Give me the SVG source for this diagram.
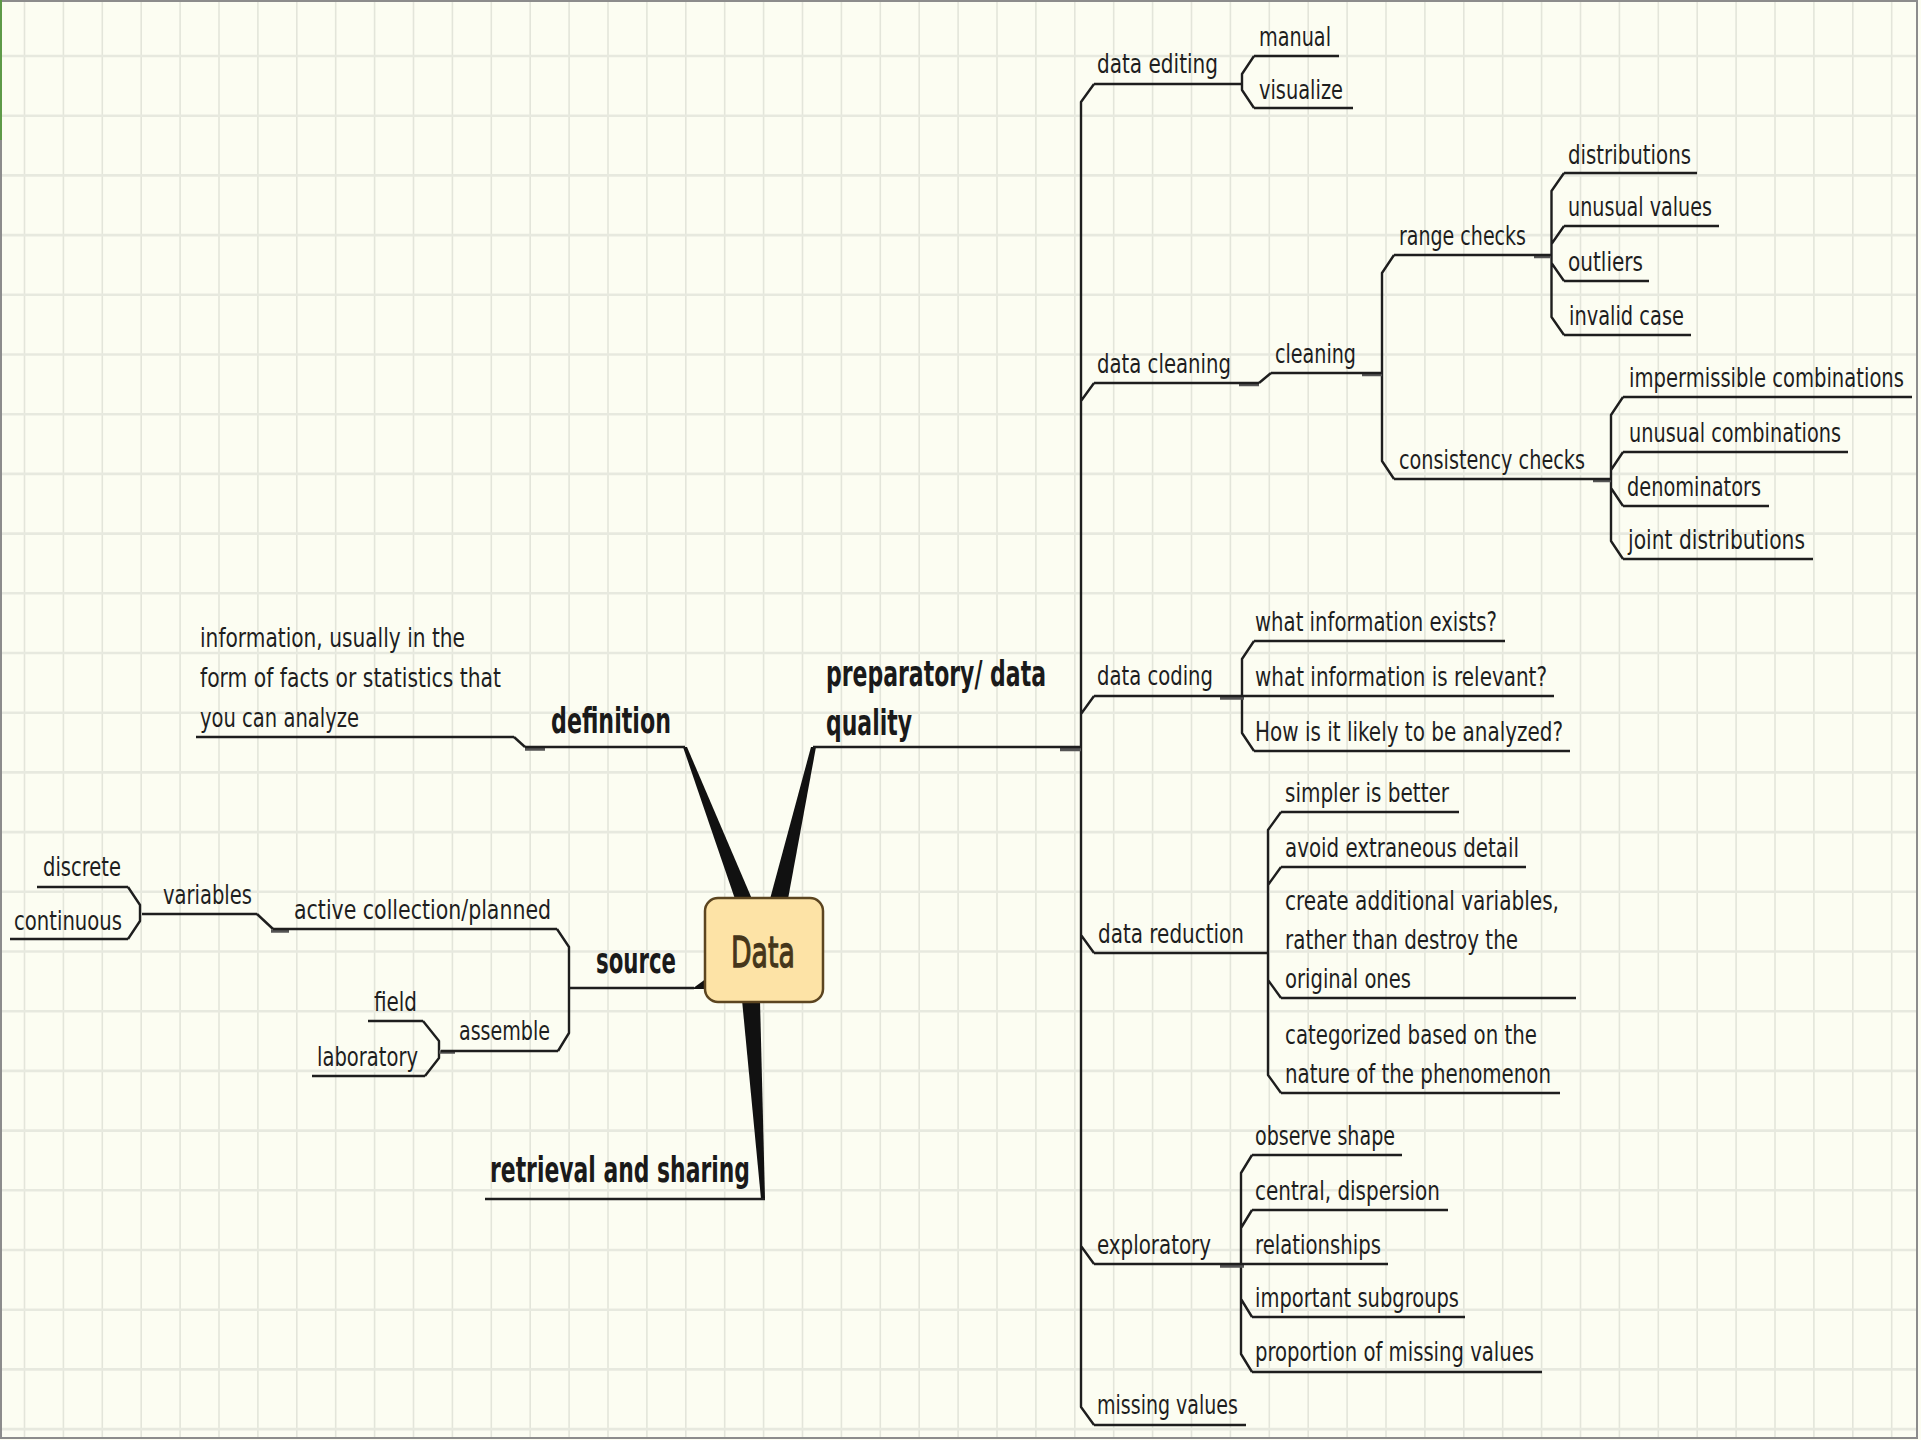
<svg xmlns="http://www.w3.org/2000/svg" width="1921" height="1440" viewBox="0 0 1921 1440">
<style>
.bg{fill:#fcfdf2}
.gv{stroke:#e3e5da;stroke-width:1.6;fill:none}
.gh{stroke:#e7e9df;stroke-width:2.6;fill:none}
.c{stroke:#1e1e1e;stroke-width:2.4;fill:none;stroke-linejoin:round}
.u{stroke:#1e1e1e;stroke-width:2.4;fill:none}
.st{stroke:#555;stroke-width:3.5;fill:none}
.w{fill:#111}
.t{font-family:"DejaVu Sans","Liberation Sans",sans-serif;font-size:26px;fill:#1e1e1e}
.b{font-family:"DejaVu Sans","Liberation Sans",sans-serif;font-size:35px;font-weight:bold;fill:#1a1a1a}
</style>
<rect class="bg" x="0" y="0" width="1921" height="1440"/>
<path class="gv" d="M24.5 1V1438M63.4 1V1438M102.3 1V1438M141.2 1V1438M180.1 1V1438M219 1V1438M257.9 1V1438M296.8 1V1438M335.7 1V1438M374.6 1V1438M413.5 1V1438M452.4 1V1438M491.3 1V1438M530.2 1V1438M569.1 1V1438M608 1V1438M646.9 1V1438M685.8 1V1438M724.7 1V1438M763.6 1V1438M802.5 1V1438M841.4 1V1438M880.3 1V1438M919.2 1V1438M958.1 1V1438M997 1V1438M1035.9 1V1438M1074.8 1V1438M1113.7 1V1438M1152.6 1V1438M1191.5 1V1438M1230.4 1V1438M1269.3 1V1438M1308.2 1V1438M1347.1 1V1438M1386 1V1438M1424.9 1V1438M1463.8 1V1438M1502.7 1V1438M1541.6 1V1438M1580.5 1V1438M1619.4 1V1438M1658.3 1V1438M1697.2 1V1438M1736.1 1V1438M1775 1V1438M1813.9 1V1438M1852.8 1V1438M1891.7 1V1438"/>
<path class="gh" d="M1 56H1917M1 115.7H1917M1 175.4H1917M1 235.1H1917M1 294.8H1917M1 354.5H1917M1 414.2H1917M1 473.9H1917M1 533.6H1917M1 593.3H1917M1 653H1917M1 712.7H1917M1 772.4H1917M1 832.1H1917M1 891.8H1917M1 951.5H1917M1 1011.2H1917M1 1070.9H1917M1 1130.6H1917M1 1190.3H1917M1 1250H1917M1 1309.7H1917M1 1369.4H1917M1 1429.1H1917"/>
<rect x="1" y="1" width="1916" height="1437" fill="none" stroke="#8c8c8c" stroke-width="2"/>
<line x1="1" y1="0" x2="1" y2="140" stroke="#5e9a48" stroke-width="2"/>

<g id="connectors">
  <polygon class="w" points="683,747 687,747 752,899 735,899"/>
  <polygon class="w" points="811,747 816,747 788,899 770,899"/>
  <polygon class="w" points="742,1000 760,1000 765,1199 761,1199"/>
  <polygon class="w" points="692,989 707,978 707,989"/>
  <path class="c" d="M1094,84 L1081,102 L1081,1407 L1094,1425 M1081,401 L1094,383 M1081,714 L1094,696 M1081,935 L1094,953 M1081,1246 L1094,1264"/>
  <path class="c" d="M1254,56 L1242,74 L1242,90 L1254,108"/>
  <path class="c" d="M1259,383 L1271,373"/>
  <path class="c" d="M1394,255 L1382,273 L1382,461 L1394,479"/>
  <path class="c" d="M1564,173 L1551.5,191 L1551.5,317 L1564,335 M1551.5,244 L1564,226 M1551.5,263 L1564,281"/>
  <path class="c" d="M1623,397 L1611,415 L1611,541 L1623,559 M1611,470 L1623,452 M1611,488 L1623,506"/>
  <path class="c" d="M1254,641 L1242,659 L1242,733 L1254,751"/>
  <path class="c" d="M1281,812 L1268,830 L1268,1075 L1281,1093 M1268,885 L1281,867 M1268,980 L1281,998"/>
  <path class="c" d="M1252,1155 L1241,1173 L1241,1354 L1252,1372 M1241,1228 L1252,1210 M1241,1299 L1252,1317"/>
  <path class="c" d="M514,737 L525,747"/>
  <path class="c" d="M557,929 L569,947 L569,1033 L558,1051"/>
  <path class="c" d="M257,914 L273,929"/>
  <path class="c" d="M128,887 L140,905 L140,921 L128,939"/>
  <path class="c" d="M423,1021 L439,1041 L439,1058 L425,1076"/>
  <path class="st" d="M1060,749.5H1081M1220,698H1244M1239,384.5H1259M1362,374.5H1382M1534,256.5H1551M1593,480.5H1611M1220,1266H1244M525,749H545M271,931H289M439,1052H455"/>
</g>

<g id="data">
  <rect x="705" y="898" width="118" height="104" rx="13" fill="#fde3a6" stroke="#5c4520" stroke-width="2.5"/>
  <text transform="translate(731 967) scale(0.62 1)" font-family="DejaVu Sans, Liberation Sans, sans-serif" font-size="43" fill="#45361a" stroke="#45361a" stroke-width="1.3" textLength="103" lengthAdjust="spacingAndGlyphs">Data</text>
</g>

<g id="definition">
  <text class="b" transform="translate(551 733) scale(0.64 1)" textLength="187.5" lengthAdjust="spacingAndGlyphs">definition</text>
  <line class="u" x1="525" y1="747" x2="685" y2="747"/>
</g>
<g id="definition-text">
  <text class="t" transform="translate(200 647) scale(0.76 1)" textLength="348.7" lengthAdjust="spacingAndGlyphs">information, usually in the</text>
  <text class="t" transform="translate(200 687) scale(0.76 1)" textLength="396.1" lengthAdjust="spacingAndGlyphs">form of facts or statistics that</text>
  <text class="t" transform="translate(200 727) scale(0.76 1)" textLength="209.2" lengthAdjust="spacingAndGlyphs">you can analyze</text>
  <line class="u" x1="196" y1="737" x2="514" y2="737"/>
</g>
<g id="source">
  <text class="b" transform="translate(596 973) scale(0.64 1)" textLength="125" lengthAdjust="spacingAndGlyphs">source</text>
  <line class="u" x1="569" y1="988" x2="694" y2="988"/>
</g>
<g id="active">
  <text class="t" transform="translate(294 919) scale(0.76 1)" textLength="338.2" lengthAdjust="spacingAndGlyphs">active collection/planned</text>
  <line class="u" x1="273" y1="929" x2="557" y2="929"/>
</g>
<g id="variables">
  <text class="t" transform="translate(163 904) scale(0.76 1)" textLength="117.1" lengthAdjust="spacingAndGlyphs">variables</text>
  <line class="u" x1="142" y1="914" x2="257" y2="914"/>
</g>
<g id="discrete">
  <text class="t" transform="translate(43 876) scale(0.76 1)" textLength="102.6" lengthAdjust="spacingAndGlyphs">discrete</text>
  <line class="u" x1="37" y1="887" x2="128" y2="887"/>
</g>
<g id="continuous">
  <text class="t" transform="translate(14 930) scale(0.76 1)" textLength="142.1" lengthAdjust="spacingAndGlyphs">continuous</text>
  <line class="u" x1="10" y1="939" x2="128" y2="939"/>
</g>
<g id="assemble">
  <text class="t" transform="translate(459 1040) scale(0.76 1)" textLength="119.7" lengthAdjust="spacingAndGlyphs">assemble</text>
  <line class="u" x1="441" y1="1051" x2="558" y2="1051"/>
</g>
<g id="field">
  <text class="t" transform="translate(374 1011) scale(0.76 1)" textLength="56.6" lengthAdjust="spacingAndGlyphs">field</text>
  <line class="u" x1="368" y1="1021" x2="423" y2="1021"/>
</g>
<g id="laboratory">
  <text class="t" transform="translate(317 1066) scale(0.76 1)" textLength="132.9" lengthAdjust="spacingAndGlyphs">laboratory</text>
  <line class="u" x1="312" y1="1076" x2="425" y2="1076"/>
</g>
<g id="retrieval">
  <text class="b" transform="translate(490 1182) scale(0.64 1)" textLength="406.25" lengthAdjust="spacingAndGlyphs">retrieval and sharing</text>
  <line class="u" x1="485" y1="1199" x2="765" y2="1199"/>
</g>

<g id="preparatory">
  <text class="b" transform="translate(826 686) scale(0.64 1)" textLength="343.75" lengthAdjust="spacingAndGlyphs">preparatory/ data</text>
  <text class="b" transform="translate(826 735) scale(0.64 1)" textLength="134.4" lengthAdjust="spacingAndGlyphs">quality</text>
  <line class="u" x1="813" y1="747" x2="1081" y2="747"/>
</g>

<g id="data-editing">
  <text class="t" transform="translate(1097 73) scale(0.76 1)" textLength="159.2" lengthAdjust="spacingAndGlyphs">data editing</text>
  <line class="u" x1="1094" y1="84" x2="1242" y2="84"/>
</g>
<g id="manual">
  <text class="t" transform="translate(1259 46) scale(0.76 1)" textLength="94.7" lengthAdjust="spacingAndGlyphs">manual</text>
  <line class="u" x1="1254" y1="56" x2="1339" y2="56"/>
</g>
<g id="visualize">
  <text class="t" transform="translate(1259 99) scale(0.76 1)" textLength="110.5" lengthAdjust="spacingAndGlyphs">visualize</text>
  <line class="u" x1="1254" y1="108" x2="1353" y2="108"/>
</g>
<g id="data-cleaning">
  <text class="t" transform="translate(1097 373) scale(0.76 1)" textLength="176.3" lengthAdjust="spacingAndGlyphs">data cleaning</text>
  <line class="u" x1="1094" y1="383" x2="1259" y2="383"/>
</g>
<g id="cleaning">
  <text class="t" transform="translate(1275 363) scale(0.76 1)" textLength="106.6" lengthAdjust="spacingAndGlyphs">cleaning</text>
  <line class="u" x1="1271" y1="373" x2="1382" y2="373"/>
</g>
<g id="range-checks">
  <text class="t" transform="translate(1399 245) scale(0.76 1)" textLength="167.1" lengthAdjust="spacingAndGlyphs">range checks</text>
  <line class="u" x1="1394" y1="255" x2="1551.5" y2="255"/>
</g>
<g id="consistency-checks">
  <text class="t" transform="translate(1399 469) scale(0.76 1)" textLength="244.7" lengthAdjust="spacingAndGlyphs">consistency checks</text>
  <line class="u" x1="1394" y1="479" x2="1611" y2="479"/>
</g>
<g id="distributions">
  <text class="t" transform="translate(1568 164) scale(0.76 1)" textLength="161.8" lengthAdjust="spacingAndGlyphs">distributions</text>
  <line class="u" x1="1564" y1="173" x2="1697" y2="173"/>
</g>
<g id="unusual-values">
  <text class="t" transform="translate(1568 216) scale(0.76 1)" textLength="189.5" lengthAdjust="spacingAndGlyphs">unusual values</text>
  <line class="u" x1="1564" y1="226" x2="1719" y2="226"/>
</g>
<g id="outliers">
  <text class="t" transform="translate(1568 271) scale(0.76 1)" textLength="98.7" lengthAdjust="spacingAndGlyphs">outliers</text>
  <line class="u" x1="1564" y1="281" x2="1649" y2="281"/>
</g>
<g id="invalid-case">
  <text class="t" transform="translate(1569 325) scale(0.76 1)" textLength="151.3" lengthAdjust="spacingAndGlyphs">invalid case</text>
  <line class="u" x1="1564" y1="335" x2="1691" y2="335"/>
</g>
<g id="impermissible">
  <text class="t" transform="translate(1629 387) scale(0.76 1)" textLength="361.8" lengthAdjust="spacingAndGlyphs">impermissible combinations</text>
  <line class="u" x1="1623" y1="397" x2="1912" y2="397"/>
</g>
<g id="unusual-combinations">
  <text class="t" transform="translate(1629 442) scale(0.76 1)" textLength="278.9" lengthAdjust="spacingAndGlyphs">unusual combinations</text>
  <line class="u" x1="1623" y1="452" x2="1848" y2="452"/>
</g>
<g id="denominators">
  <text class="t" transform="translate(1627 496) scale(0.76 1)" textLength="176.3" lengthAdjust="spacingAndGlyphs">denominators</text>
  <line class="u" x1="1623" y1="506" x2="1769" y2="506"/>
</g>
<g id="joint-distributions">
  <text class="t" transform="translate(1628 549) scale(0.76 1)" textLength="232.9" lengthAdjust="spacingAndGlyphs">joint distributions</text>
  <line class="u" x1="1623" y1="559" x2="1813" y2="559"/>
</g>
<g id="data-coding">
  <text class="t" transform="translate(1097 685) scale(0.76 1)" textLength="152.6" lengthAdjust="spacingAndGlyphs">data coding</text>
  <line class="u" x1="1094" y1="696" x2="1242" y2="696"/>
</g>
<g id="info-exists">
  <text class="t" transform="translate(1255 631) scale(0.76 1)" textLength="318.4" lengthAdjust="spacingAndGlyphs">what information exists?</text>
  <line class="u" x1="1254" y1="641" x2="1505" y2="641"/>
</g>
<g id="info-relevant">
  <text class="t" transform="translate(1255 686) scale(0.76 1)" textLength="384.2" lengthAdjust="spacingAndGlyphs">what information is relevant?</text>
  <line class="u" x1="1242" y1="696" x2="1554" y2="696"/>
</g>
<g id="analyzed">
  <text class="t" transform="translate(1255 741) scale(0.76 1)" textLength="405.3" lengthAdjust="spacingAndGlyphs">How is it likely to be analyzed?</text>
  <line class="u" x1="1254" y1="751" x2="1570" y2="751"/>
</g>
<g id="data-reduction">
  <text class="t" transform="translate(1098 943) scale(0.76 1)" textLength="192.1" lengthAdjust="spacingAndGlyphs">data reduction</text>
  <line class="u" x1="1094" y1="953" x2="1268" y2="953"/>
</g>
<g id="simpler">
  <text class="t" transform="translate(1285 802) scale(0.76 1)" textLength="215.8" lengthAdjust="spacingAndGlyphs">simpler is better</text>
  <line class="u" x1="1281" y1="812" x2="1459" y2="812"/>
</g>
<g id="avoid">
  <text class="t" transform="translate(1285 857) scale(0.76 1)" textLength="307.9" lengthAdjust="spacingAndGlyphs">avoid extraneous detail</text>
  <line class="u" x1="1281" y1="867" x2="1526" y2="867"/>
</g>
<g id="create">
  <text class="t" transform="translate(1285 910) scale(0.76 1)" textLength="360.5" lengthAdjust="spacingAndGlyphs">create additional variables,</text>
  <text class="t" transform="translate(1285 949) scale(0.76 1)" textLength="306.6" lengthAdjust="spacingAndGlyphs">rather than destroy the</text>
  <text class="t" transform="translate(1285 988) scale(0.76 1)" textLength="165.8" lengthAdjust="spacingAndGlyphs">original ones</text>
  <line class="u" x1="1281" y1="998" x2="1576" y2="998"/>
</g>
<g id="categorized">
  <text class="t" transform="translate(1285 1044) scale(0.76 1)" textLength="331.6" lengthAdjust="spacingAndGlyphs">categorized based on the</text>
  <text class="t" transform="translate(1285 1083) scale(0.76 1)" textLength="350" lengthAdjust="spacingAndGlyphs">nature of the phenomenon</text>
  <line class="u" x1="1281" y1="1093" x2="1560" y2="1093"/>
</g>
<g id="exploratory">
  <text class="t" transform="translate(1097 1254) scale(0.76 1)" textLength="150" lengthAdjust="spacingAndGlyphs">exploratory</text>
  <line class="u" x1="1094" y1="1264" x2="1241" y2="1264"/>
</g>
<g id="observe-shape">
  <text class="t" transform="translate(1255 1145) scale(0.76 1)" textLength="184.2" lengthAdjust="spacingAndGlyphs">observe shape</text>
  <line class="u" x1="1252" y1="1155" x2="1402" y2="1155"/>
</g>
<g id="central">
  <text class="t" transform="translate(1255 1200) scale(0.76 1)" textLength="243.4" lengthAdjust="spacingAndGlyphs">central, dispersion</text>
  <line class="u" x1="1252" y1="1210" x2="1448" y2="1210"/>
</g>
<g id="relationships">
  <text class="t" transform="translate(1255 1254) scale(0.76 1)" textLength="165.8" lengthAdjust="spacingAndGlyphs">relationships</text>
  <line class="u" x1="1241" y1="1264" x2="1388" y2="1264"/>
</g>
<g id="subgroups">
  <text class="t" transform="translate(1255 1307) scale(0.76 1)" textLength="268.4" lengthAdjust="spacingAndGlyphs">important subgroups</text>
  <line class="u" x1="1252" y1="1317" x2="1465" y2="1317"/>
</g>
<g id="proportion">
  <text class="t" transform="translate(1255 1361) scale(0.76 1)" textLength="367.1" lengthAdjust="spacingAndGlyphs">proportion of missing values</text>
  <line class="u" x1="1252" y1="1372" x2="1542" y2="1372"/>
</g>
<g id="missing-values">
  <text class="t" transform="translate(1097 1414) scale(0.76 1)" textLength="185.5" lengthAdjust="spacingAndGlyphs">missing values</text>
  <line class="u" x1="1094" y1="1425" x2="1246" y2="1425"/>
</g>
</svg>
